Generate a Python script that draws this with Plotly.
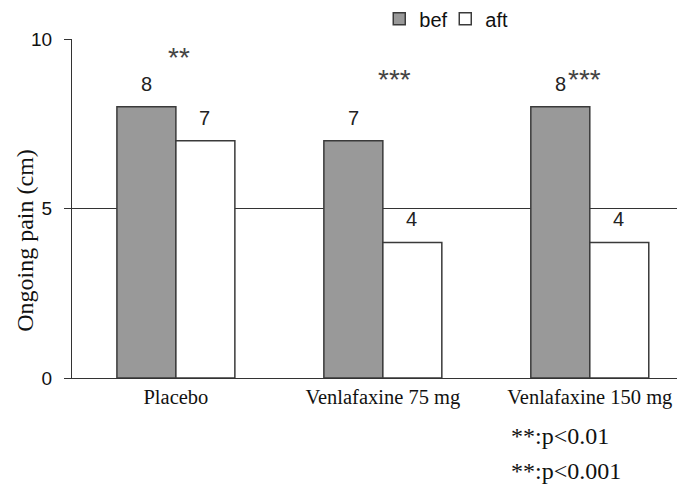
import plotly.graph_objects as go

categories = ["Placebo", "Venlafaxine 75 mg", "Venlafaxine 150 mg"]
before = [8, 7, 8]
after = [7, 4, 4]
stars = ["**", "***", "***"]
star_y = [9.45, 8.8, 8.8]
footnotes = ["**:p<0.01", "**:p<0.001"]
y_title = "Ongoing pain (cm)"

SANS = "Liberation Sans, Arial, sans-serif"
SERIF = "Liberation Serif, Times New Roman, serif"
EDGE = "#3a3a3a"

fig = go.Figure()
fig.add_trace(go.Bar(
    x=categories, y=before, name="bef",
    marker=dict(color="#999999", line=dict(color=EDGE, width=1.5)),
))
fig.add_trace(go.Bar(
    x=categories, y=after, name="aft",
    marker=dict(color="white", line=dict(color=EDGE, width=1.5)),
))
# blank legend entry so the tight legend doesn't clip "aft"
fig.add_trace(go.Scatter(x=[None], y=[None], mode="markers", name=" ",
                         marker=dict(color="rgba(0,0,0,0)", size=1,
                                     line=dict(width=0, color="rgba(0,0,0,0)")),
                         hoverinfo="skip"))

# value labels above each bar
for vals, dx in ((before, -29), (after, 29)):
    for cat, v in zip(categories, vals):
        fig.add_annotation(x=cat, y=v, text=str(v), showarrow=False,
                           xshift=dx, yshift=10, yanchor="bottom",
                           font=dict(family=SANS, size=20, color="#222"))

# reference line at 5
fig.add_shape(type="line", xref="paper", x0=0, x1=1, yref="y", y0=5, y1=5,
              line=dict(color="#333", width=1.2), layer="below")

# significance stars
for cat, s, yy, dx in zip(categories, stars, star_y, (3, 12, -5)):
    fig.add_annotation(x=cat, y=yy, text=s, showarrow=False, xshift=dx,
                       font=dict(family=SANS, size=28, color="#444"))

for i, t in enumerate(footnotes):
    fig.add_annotation(xref="paper", yref="paper", x=0.713, y=-0.17 - i * 0.103,
                       xanchor="left", yanchor="middle", text=t, showarrow=False,
                       font=dict(family=SERIF, size=24, color="#111"))

# y title (sits below the axis centre in the original)
fig.add_annotation(xref="paper", yref="paper", x=-0.077, y=0.407, text=y_title,
                   textangle=-90, showarrow=False, xanchor="center", yanchor="middle",
                   font=dict(family=SERIF, size=24, color="#111"))

fig.update_layout(
    width=685, height=486,
    margin=dict(l=64, r=8, t=31, b=116),
    plot_bgcolor="white", paper_bgcolor="white",
    barmode="group", bargap=0.43, bargroupgap=0,
    showlegend=True,
    legend=dict(orientation="h", xref="container", yref="container",
                x=0.542, y=0.978, xanchor="left", yanchor="middle",
                font=dict(family=SANS, size=20, color="#111"),
                itemwidth=30, entrywidth=21, tracegroupgap=0,
                bgcolor="rgba(0,0,0,0)"),
    xaxis=dict(range=[-0.502, 2.46], showline=True, linecolor="#333", linewidth=1.2,
               ticks="", automargin=False,
               tickfont=dict(family=SERIF, size=20.5, color="#111")),
    yaxis=dict(range=[0, 10], tickvals=[0, 5, 10], showgrid=False, zeroline=False,
               showline=True, linecolor="#333", linewidth=1.2,
               ticks="outside", ticklen=7, tickcolor="#333", automargin=False,
               ticklabelstandoff=8,
               tickfont=dict(family=SANS, size=19, color="#111")),
)

fig.write_html("out.html")
